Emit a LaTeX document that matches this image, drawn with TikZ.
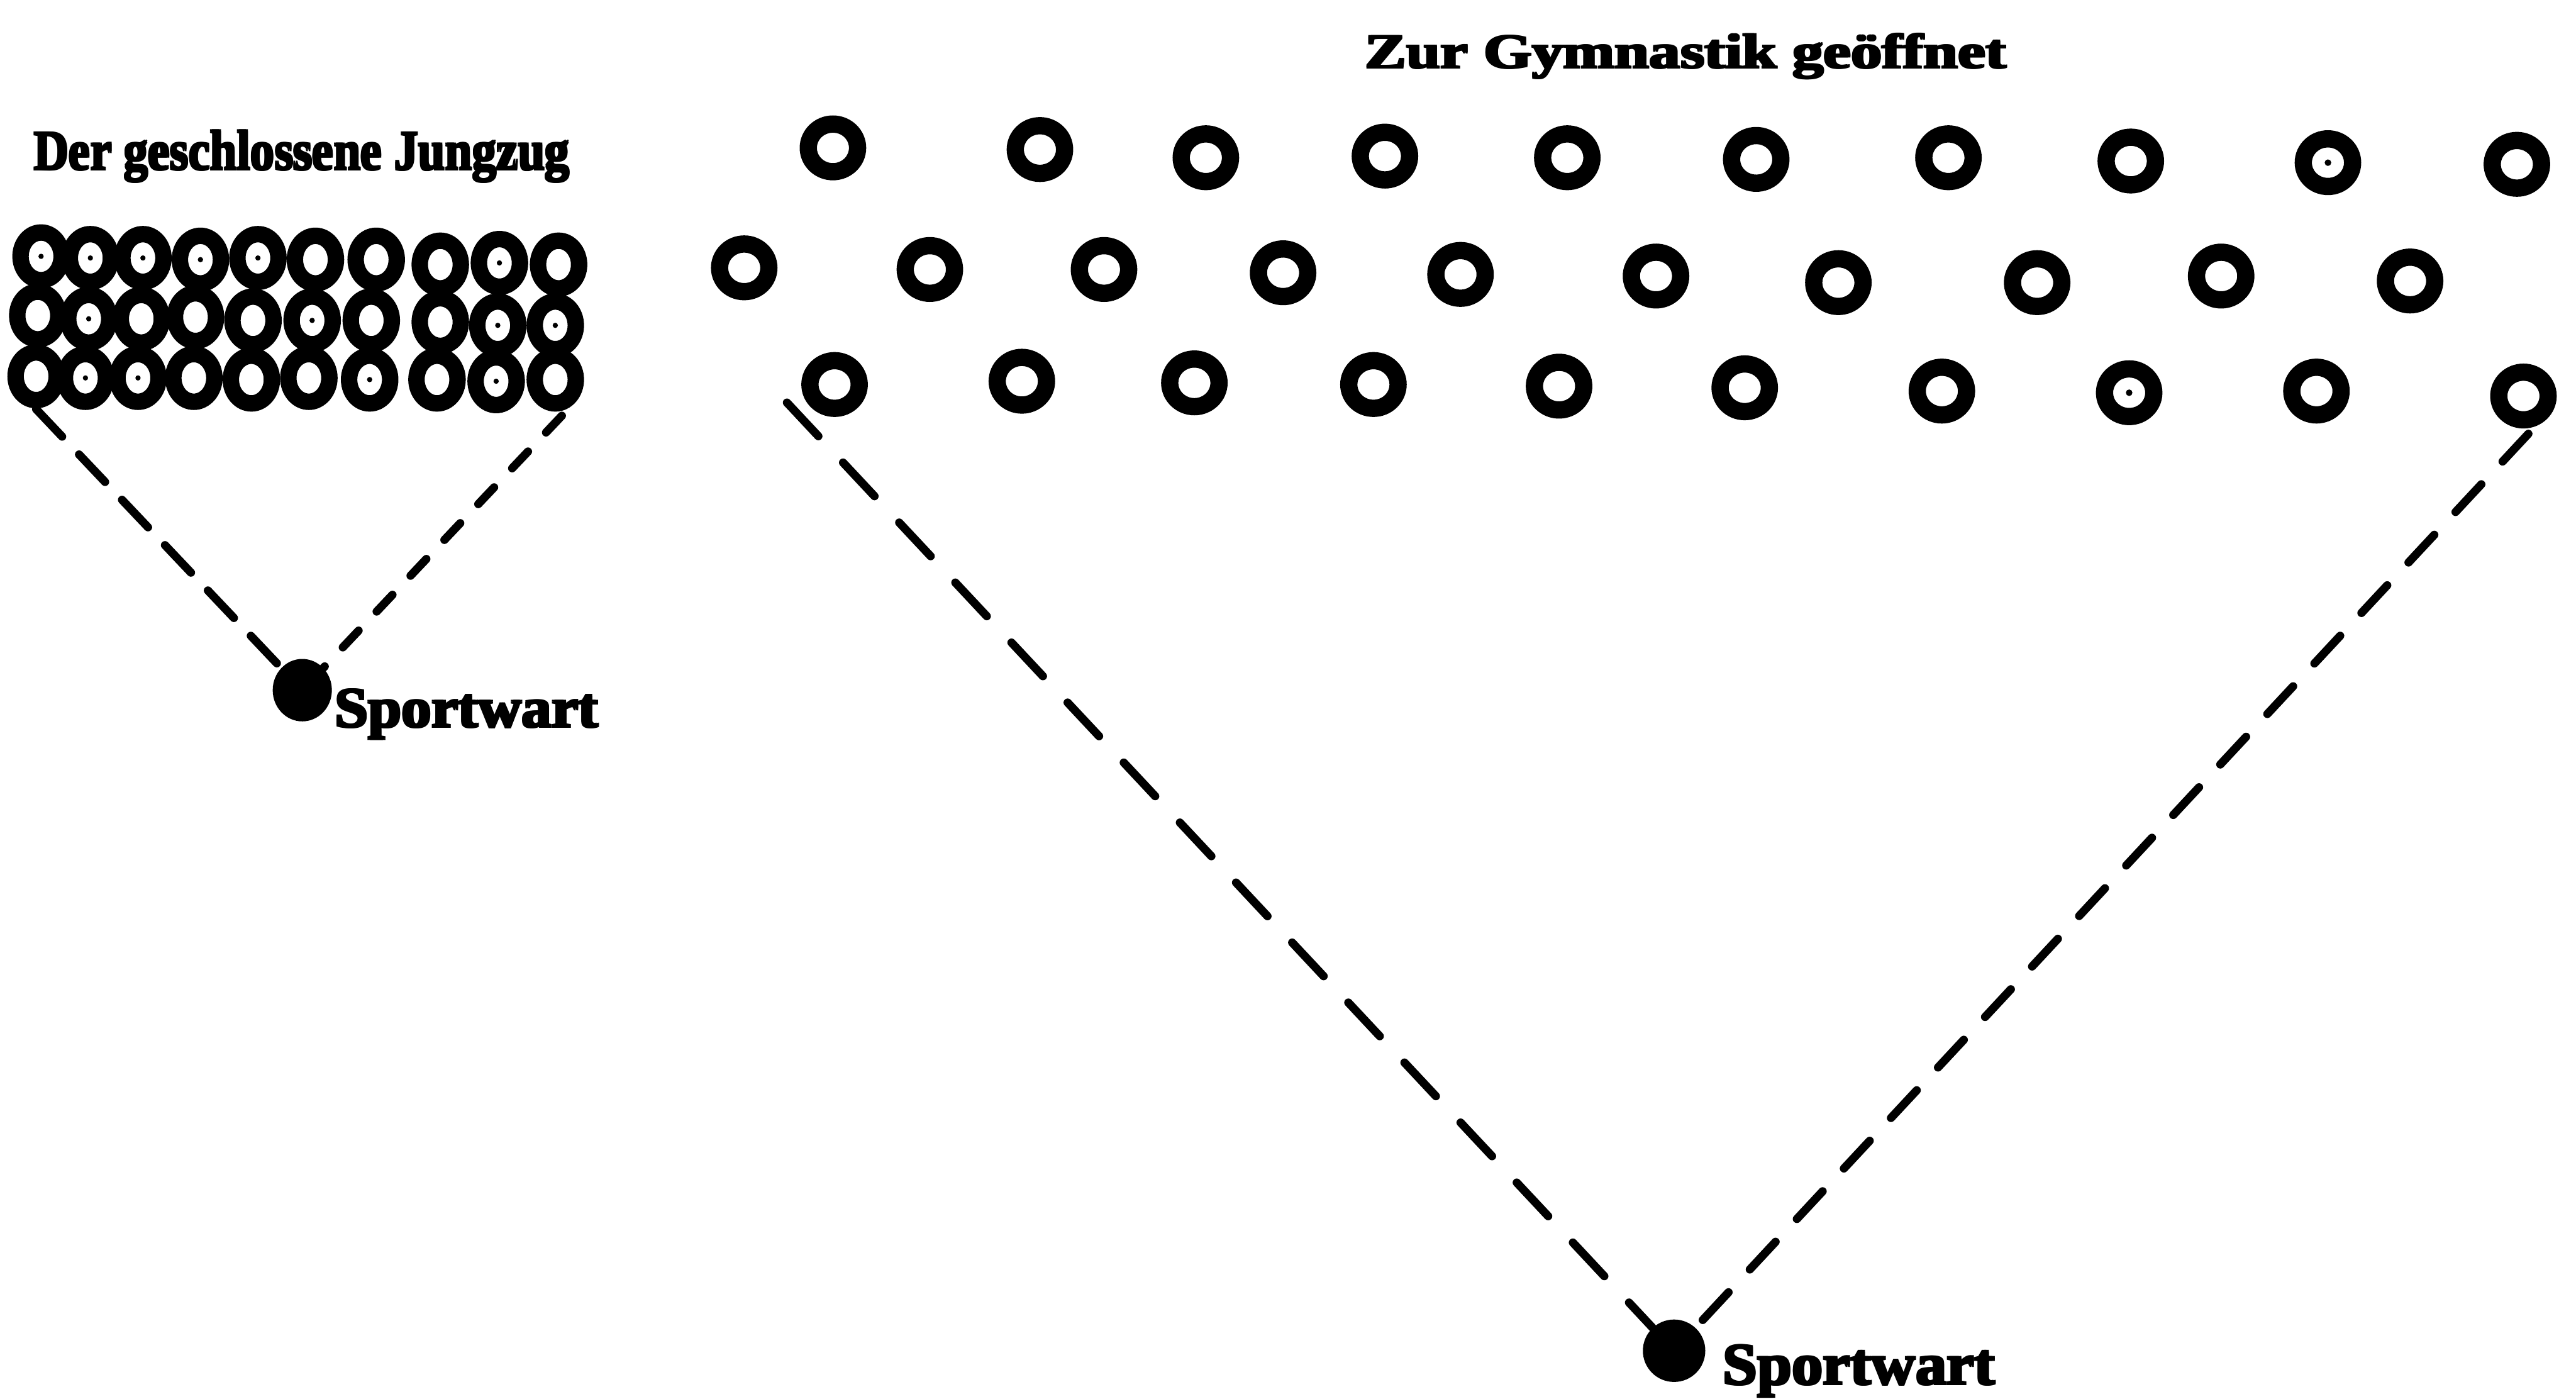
\documentclass[tikz,border=0pt]{standalone}
\usepackage{graphicx}
\usepackage{fontspec}
\newfontfamily\capfont{Liberation Serif}
\usetikzlibrary{shapes.geometric}

% one drawing unit
\newlength\pxu
\setlength\pxu{0.04cm}

% heavy lettering: the text is overprinted with small offsets
\newcommand\heavy[1]{\leavevmode\rlap{#1}\rlap{\kern.4pt#1}\rlap{\raisebox{.3pt}{#1}}\kern.4pt\raisebox{.3pt}{#1}}
% width, height above baseline, text
\newcommand\boldcaption[3]{\resizebox{#1\pxu}{#2\pxu}{\capfont\bfseries\heavy{#3}}}

\tikzset{
  ringtight/.style={ellipse, draw, line width=10\pxu,
    minimum width=25\pxu, minimum height=29\pxu, inner sep=0pt},
  ringwide/.style={ellipse, draw, line width=10.5\pxu,
    minimum width=30\pxu, minimum height=29\pxu, inner sep=0pt},
  leaderdot/.style={ellipse, fill, draw=none, inner sep=0pt},
  guide/.style={line width=5\pxu, line cap=round},
  caption/.style={anchor=base west, inner sep=0pt, outer sep=0pt}
}

\begin{document}
\begin{tikzpicture}[x=0.04cm, y=-0.04cm]
  \fill[white] (0,0) rectangle (1568,851);
  \useasboundingbox (0,0) rectangle (1568,851);

  % --- closed squad: three tight rows of ten ---
  \foreach \x/\y [count=\i] in {25/156, 55/157, 87/157, 122/158, 157/157,
                                192/158, 229/158, 268/161, 304/160, 340/161}
    \node[ringtight] (d1-\i) at (\x,\y) {};
  \foreach \x/\y [count=\i] in {23/192, 54/194, 86/194, 119/193, 154/195,
                                190/195, 226/195, 268/196, 303/198, 338/198}
    \node[ringtight] (d2-\i) at (\x,\y) {};
  \foreach \x/\y [count=\i] in {22/229, 52/230, 84/230, 118/230, 153/231,
                                188/230, 225/231, 266/231, 302/232, 338/231}
    \node[ringtight] (d3-\i) at (\x,\y) {};
  \foreach \n in {d1-1, d1-2, d1-3, d1-4, d1-5, d1-9,
                  d2-2, d2-6, d2-9, d2-10,
                  d3-2, d3-3, d3-7, d3-9}
    \fill (\n.center) circle[radius=1.6\pxu];

  % --- opened for gymnastics: three staggered rows ---
  \foreach \x/\y [count=\i] in {507/90, 633/91, 734/96, 843/95, 954/96,
                                1069/97, 1186/96, 1297/98, 1417/99, 1532/100}
    \node[ringwide] (s1-\i) at (\x,\y) {};
  \foreach \x/\y [count=\i] in {453/163, 566/164, 672/164, 781/166, 889/167,
                                1008/168, 1119/172, 1240/172, 1352/168, 1467/171}
    \node[ringwide] (s2-\i) at (\x,\y) {};
  \foreach \x/\y [count=\i] in {508/234, 622/232, 727/233, 836/234, 949/235,
                                1062/236, 1182/238, 1296/239, 1410/238, 1536/241}
    \node[ringwide] (s3-\i) at (\x,\y) {};
  \foreach \n in {s1-9, s3-8}
    \fill (\n.center) circle[radius=2\pxu];

  % --- sports leaders ---
  \node[leaderdot, minimum width=36\pxu, minimum height=38\pxu] (leadL) at (184,420) {};
  \node[leaderdot, minimum width=38\pxu, minimum height=38\pxu] (leadR) at (1019,822) {};

  % --- sight lines ---
  \coordinate (tipLL) at (22,249);
  \coordinate (tipLR) at (342,253);
  \coordinate (tipRL) at (479,245);
  \coordinate (tipRR) at (1539,264);
  \draw[guide, dash pattern=on 0.92cm off 0.60cm] (tipLL) -- (leadL);
  \draw[guide, dash pattern=on 0.56cm off 0.64cm] (tipLR) -- (leadL);
  \draw[guide, dash pattern=on 1.12cm off 0.88cm] (tipRL) -- (leadR);
  \draw[guide, dash pattern=on 0.92cm off 0.76cm] (tipRR) -- (leadR);

  % --- captions ---
  \node[caption] (capClosed) at (20,104) {\boldcaption{327}{25}{Der geschlossene Jungzug}};
  \node[caption] (capOpen) at (830,42) {\boldcaption{392}{22}{Zur Gymnastik geöffnet}};
  \node[caption] (capLeadL) at (203,443) {\boldcaption{162}{24}{Sportwart}};
  \node[caption] (capLeadR) at (1048,843) {\boldcaption{167}{25}{Sportwart}};
\end{tikzpicture}
\end{document}
